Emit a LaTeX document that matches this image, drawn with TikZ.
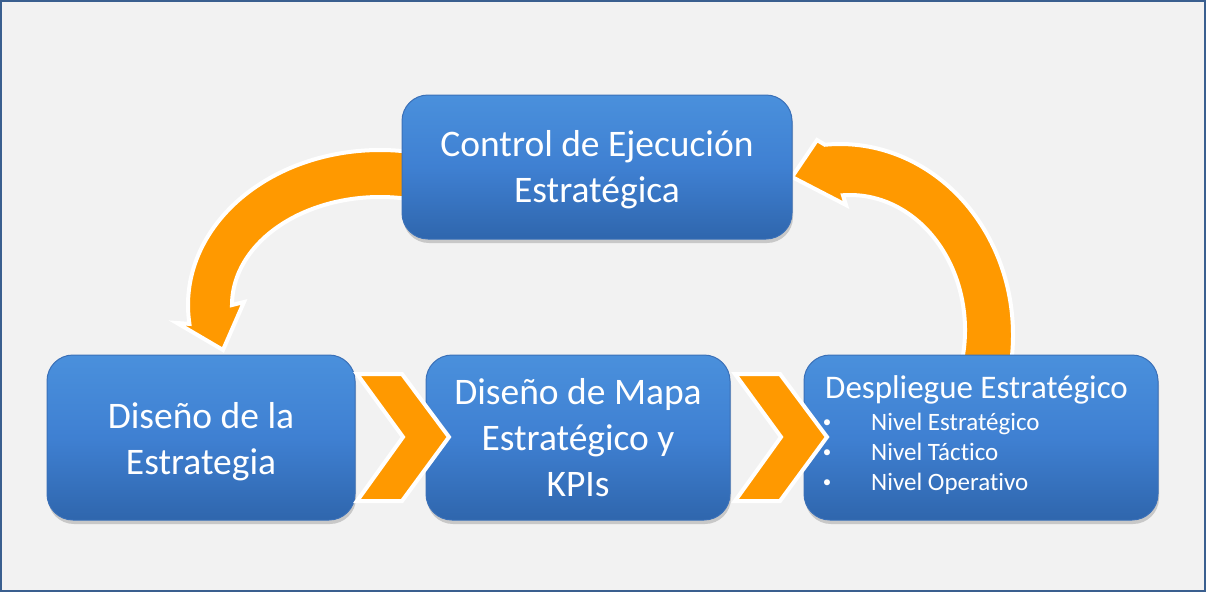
\documentclass[tikz,border=0pt]{standalone}
\usepackage{fontspec}
\setmainfont{Carlito}[Ligatures=CommonOff]
\usetikzlibrary{shadows}
\definecolor{bgcol}{HTML}{F2F2F2}
\definecolor{framecol}{HTML}{3A5F8F}
\definecolor{orng}{HTML}{FF9900}
\definecolor{boxtop}{HTML}{4A90DC}
\definecolor{boxmid}{HTML}{3F80D2}
\definecolor{boxbot}{HTML}{2F66AD}
\definecolor{boxedge}{HTML}{3A70B8}
\begin{document}
\begin{tikzpicture}[x=1pt,y=-1pt,
  bluebox/.style={rounded corners=26pt, top color=boxtop, bottom color=boxbot, middle color=boxmid,
    draw=boxedge, line width=1pt, text=white, align=center, inner sep=0pt,
    drop shadow={shadow xshift=1pt, shadow yshift=-4pt, opacity=0.25, fill=black!70}},
  bigtext/.style={font=\fontsize{37.5}{46}\selectfont},
  arrowshape/.style={fill=orng, draw=white, line width=4pt, line join=miter},
  headtext/.style={text=white, inner sep=0pt, anchor=mid west, font=\fontsize{33}{38}\selectfont},
  listtext/.style={text=white, inner sep=0pt, anchor=mid west, font=\fontsize{25}{29}\selectfont},
  bullettext/.style={text=white, inner sep=0pt, anchor=center, font=\fontsize{17}{20}\selectfont}
]
\useasboundingbox (0,0) rectangle (1206,592);
\fill[bgcol] (0,0) rectangle (1206,592);
\draw[framecol, line width=2pt] (1,1) rectangle (1205,591);

% curved arrow: control -> diseno
\draw[arrowshape] ([shift={(380,305)}]282:192 and 155)
  arc[start angle=282, end angle=173, x radius=192, y radius=155]
  -- (177,323) -- (223,350) -- (244,302)
  -- ([shift={(380,305)}]180:148 and 108)
  arc[start angle=180, end angle=282, x radius=148, y radius=108] -- cycle;

% curved arrow: despliegue -> control
\draw[arrowshape] ([shift={(840,335)}]12:173 and 191)
  arc[start angle=12, end angle=-95, x radius=173, y radius=191]
  -- (817,140) -- (792,177) -- (846,205)
  -- ([shift={(850,330)}]-93.5:115 and 135)
  arc[start angle=-93.5, end angle=12, x radius=115, y radius=135] -- cycle;

% boxes
\node[bluebox, minimum width=390pt, minimum height=144pt] (ctrl) at (597,167) {};
\node[text=white, align=center, bigtext] (ctrlt) at (597,170) {Control de Ejecución\\Estratégica};
\node[bluebox, minimum width=308pt, minimum height=165pt] (dis) at (201,437.5) {};
\node[text=white, align=center, bigtext] (dist) at (201,442) {Diseño de la\\Estrategia};
\node[bluebox, bigtext, minimum width=304pt, minimum height=165pt] (mapa) at (578,437.5)
  {Diseño de Mapa\\Estratégico y\\KPIs};
\node[bluebox, minimum width=354pt, minimum height=165pt] (desp) at (981,437.5) {};

% chevrons
\draw[arrowshape] (357,374) -- (402,374) -- (449,437) -- (402,501) -- (357,501) -- (403,437) -- cycle;
\draw[arrowshape] (735,374) -- (780,374) -- (827,437) -- (780,501) -- (735,501) -- (781,437) -- cycle;

% right box text
\node[headtext] (h) at (825,396) {Despliegue Estratégico};
\node[bullettext] (b1) at (827,424) {•};
\node[bullettext] (b2) at (827,454) {•};
\node[bullettext] (b3) at (827,484) {•};
\node[listtext] (l1) at (871,428) {Nivel Estratégico};
\node[listtext] (l2) at (871,458) {Nivel Táctico};
\node[listtext] (l3) at (871,488) {Nivel Operativo};
\end{tikzpicture}
\end{document}
